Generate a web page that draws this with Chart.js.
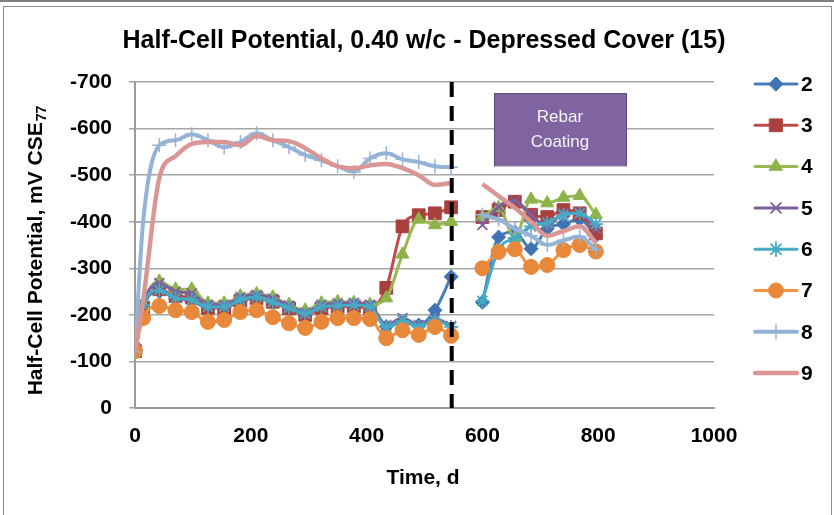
<!DOCTYPE html>
<html>
<head>
<meta charset="utf-8">
<script src="https://cdn.jsdelivr.net/npm/chart.js@4.4.1/dist/chart.umd.min.js"></script>
<style>
  html, body { margin: 0; padding: 0; background: #fff; }
  #wrap { width: 834px; height: 515px; position: relative; }
</style>
</head>
<body>
<div id="wrap"><canvas id="chart" width="834" height="515"></canvas></div>
<script>
// Measurement days (before and after the rebar coating)
const preDays = [0, 14, 42, 70, 98, 126, 154, 182, 210, 238, 266, 294, 322, 350, 378, 406, 434, 462, 490, 518, 546]
const postDays = [600, 628, 656, 684, 712, 740, 768, 796]
const gapDay = 573
const coatingDay = 547

const seriesNames = ['2', '3', '4', '5', '6', '7', '8', '9']

// Half-cell potential, mV CSE
const s2Pre = [-125, -215, -250, -235, -230, -215, -215, -230, -236, -226, -213, -200, -215, -218, -218, -215, -175, -183, -178, -210, -282]
const s3Pre = [-122, -215, -255, -240, -237, -215, -215, -230, -236, -228, -214, -200, -214, -217, -218, -215, -258, -390, -414, -418, -431]
const s4Pre = [-128, -222, -272, -255, -255, -225, -225, -240, -245, -238, -222, -210, -225, -228, -226, -222, -236, -330, -405, -393, -400]
const s5Pre = [-142, -225, -268, -250, -246, -222, -222, -238, -243, -235, -220, -205, -222, -225, -226, -222, -178, -193, -178, -192, -176]
const s6Pre = [-130, -221, -253, -236, -232, -217, -217, -232, -238, -227, -215, -202, -217, -219, -221, -217, -174, -187, -174, -189, -174]
const s7Pre = [-122, -193, -219, -210, -206, -185, -189, -206, -210, -195, -182, -172, -185, -193, -193, -191, -150, -167, -157, -174, -155]
const s8Pre = [-120, -399, -564, -575, -588, -575, -560, -571, -590, -575, -560, -543, -532, -519, -507, -536, -547, -534, -528, -519, -517]
const s9Pre = [-120, -230, -494, -541, -567, -571, -571, -564, -584, -575, -573, -558, -536, -519, -515, -521, -524, -515, -500, -479, -483]

const s2Post = [-227, -367, -378, -342, -385, -395, -405, -370]
const s3Post = [-410, -425, -443, -415, -410, -425, -418, -375]
const s4Post = [-410, -430, -365, -448, -440, -452, -456, -415]
const s5Post = [-393, -432, -445, -415, -390, -418, -418, -385]
const s6Post = [-230, -340, -365, -390, -398, -415, -418, -395]
const s7Post = [-300, -335, -341, -303, -307, -339, -350, -336]
const s8Post = [-415, -405, -385, -370, -350, -360, -368, -340]
const s9Post = [-481, -455, -430, -400, -370, -380, -390, -355]

const yTickValues = [-700, -600, -500, -400, -300, -200, -100, 0]
const xTickValues = [0, 200, 400, 600, 800, 1000]

const titleText = 'Half-Cell Potential, 0.40 w/c - Depressed Cover (15)'
const yTitleMain = 'Half-Cell Potential, mV CSE'
const yTitleSub = '77'
const xTitleText = 'Time, d'
const boxLines = ['Rebar', 'Coating']

const preSeries = [s2Pre, s3Pre, s4Pre, s5Pre, s6Pre, s7Pre, s8Pre, s9Pre]
const postSeries = [s2Post, s3Post, s4Post, s5Post, s6Post, s7Post, s8Post, s9Post]

// Styles per series
const styles = [
  { line: '#4A7EBB', fill: '#3F73B3', point: 'rectRot', r: 7, lw: 3, bw: 1 },
  { line: '#BE4B48', fill: '#A9403D', point: 'rect', r: 9, lw: 3, bw: 1 },
  { line: '#98B954', fill: '#8DB34A', point: 'triangle', r: 7.5, lw: 3, bw: 1 },
  { line: '#7D60A0', fill: '#7D60A0', point: 'crossRot', r: 7, lw: 3, bw: 1.8 },
  { line: '#46AAC5', fill: '#46AAC5', point: 'star', r: 7, lw: 3, bw: 1.8 },
  { line: '#F69240', fill: '#E8883A', point: 'circle', r: 7.5, lw: 3, bw: 1 },
  { line: '#95B3D7', fill: '#95B3D7', point: 'cross', r: 7, lw: 4, bw: 1.5 },
  { line: '#D99694', fill: '#D99694', point: false, r: 0, lw: 4.5, bw: 0 },
]

const FONT = "'Liberation Sans', Arial, sans-serif"

function toPoints(pre, post) {
  const pts = preDays.map((d, i) => ({ x: d, y: pre[i] }))
  pts.push({ x: gapDay, y: null })
  postDays.forEach((d, i) => pts.push({ x: d, y: post[i] }))
  return pts
}

const datasets = seriesNames.map((name, i) => {
  const st = styles[i]
  return {
    label: name,
    data: toPoints(preSeries[i], postSeries[i]),
    borderColor: st.line,
    borderWidth: st.lw,
    backgroundColor: st.fill,
    pointStyle: st.point,
    pointRadius: st.r,
    pointHoverRadius: st.r,
    pointBackgroundColor: st.fill,
    pointBorderColor: st.point === 'rect' || st.point === 'rectRot' || st.point === 'triangle' || st.point === 'circle' ? st.fill : st.line,
    pointBorderWidth: st.bw,
    tension: 0.35,
    cubicInterpolationMode: 'monotone',
    spanGaps: false,
    fill: false,
    order: seriesNames.length - i,
  }
})

// Custom drawing: frame, title, axis titles, coating marker, legend
const decorations = {
  id: 'decorations',
  beforeDraw(chart) {
    const ctx = chart.ctx
    ctx.save()
    ctx.fillStyle = '#fff'
    ctx.fillRect(0, 0, chart.width, chart.height)
    ctx.strokeStyle = '#7f7f7f'
    ctx.lineWidth = 2
    ctx.beginPath()
    ctx.moveTo(0, 1); ctx.lineTo(chart.width, 1)
    ctx.stroke()
    ctx.strokeStyle = '#8c8c8c'
    ctx.lineWidth = 1
    ctx.strokeRect(3.5, 6.5, chart.width - 6, chart.height)
    ctx.restore()
  },
  afterDatasetsDraw(chart) {
    const ctx = chart.ctx
    const xs = chart.scales.x
    const ys = chart.scales.y
    const area = chart.chartArea
    ctx.save()

    // coating date line
    const cx = xs.getPixelForValue(coatingDay)
    ctx.strokeStyle = '#000'
    ctx.lineWidth = 4
    ctx.setLineDash([15, 9])
    ctx.beginPath()
    ctx.moveTo(cx, area.top)
    ctx.lineTo(cx, area.bottom)
    ctx.stroke()
    ctx.setLineDash([])

    // Rebar Coating box
    const bx1 = xs.getPixelForValue(620), bx2 = xs.getPixelForValue(848)
    const by1 = ys.getPixelForValue(-676), by2 = ys.getPixelForValue(-521)
    ctx.fillStyle = '#8064A2'
    ctx.fillRect(bx1, by1, bx2 - bx1, by2 - by1)
    ctx.strokeStyle = '#5E4A7A'
    ctx.lineWidth = 1
    ctx.strokeRect(bx1 + 0.5, by1 + 0.5, bx2 - bx1, by2 - by1)
    ctx.fillStyle = '#f4f4f4'
    ctx.font = '17px ' + FONT
    ctx.textAlign = 'center'
    ctx.textBaseline = 'middle'
    const bcx = (bx1 + bx2) / 2
    ctx.fillText(boxLines[0], bcx, by1 + 24)
    ctx.fillText(boxLines[1], bcx, by1 + 49)

    // legend
    const lx1 = 755, lx2 = 797, ly0 = 84, lstep = 41.3
    chart.data.datasets.forEach((ds, i) => {
      const st = styles[i]
      const y = ly0 + i * lstep
      ctx.strokeStyle = st.line
      ctx.lineWidth = st.lw
      ctx.lineCap = 'round'
      ctx.beginPath()
      ctx.moveTo(lx1, y)
      ctx.lineTo(lx2, y)
      ctx.stroke()
      if (st.point && Chart.helpers && Chart.helpers.drawPoint) {
        ctx.fillStyle = st.fill
        ctx.strokeStyle = ds.pointBorderColor
        ctx.lineWidth = st.bw
        Chart.helpers.drawPoint(ctx, { pointStyle: st.point, radius: st.r, rotation: 0, borderWidth: st.bw }, (lx1 + lx2) / 2, y)
      }
      ctx.fillStyle = '#000'
      ctx.font = 'bold 21px ' + FONT
      ctx.textAlign = 'left'
      ctx.textBaseline = 'middle'
      ctx.fillText(ds.label, 801, y + 1)
    })

    // title
    ctx.fillStyle = '#000'
    ctx.font = 'bold 25px ' + FONT
    ctx.textAlign = 'center'
    ctx.textBaseline = 'middle'
    ctx.fillText(titleText, 424, 41)

    // x axis title
    ctx.font = 'bold 21px ' + FONT
    ctx.fillText(xTitleText, 423, 478)

    // y axis title with subscript
    ctx.translate(36, 251)
    ctx.rotate(-Math.PI / 2)
    ctx.font = 'bold 21px ' + FONT
    const w1 = ctx.measureText(yTitleMain).width
    ctx.font = 'bold 14px ' + FONT
    const w2 = ctx.measureText(yTitleSub).width
    const sx = -(w1 + w2) / 2
    ctx.textAlign = 'left'
    ctx.font = 'bold 21px ' + FONT
    ctx.fillText(yTitleMain, sx, 0)
    ctx.font = 'bold 14px ' + FONT
    ctx.fillText(yTitleSub, sx + w1 + 1, 6)
    ctx.restore()
  }
}

new Chart(document.getElementById('chart'), {
  type: 'line',
  data: { datasets },
  options: {
    responsive: false,
    animation: false,
    events: [],
    layout: { padding: { top: 82, right: 120, bottom: 0, left: 0 } },
    plugins: {
      legend: { display: false },
      title: { display: false },
      tooltip: { enabled: false },
    },
    scales: {
      x: {
        type: 'linear',
        min: 0,
        max: 1000,
        afterFit: (s) => { s.height = 107 },
        afterBuildTicks: (s) => { s.ticks = xTickValues.map(v => ({ value: v })) },
        ticks: {
          color: '#000',
          padding: 16,
          maxRotation: 0,
          font: { family: FONT, size: 21, weight: 'bold' },
          callback: (v) => String(v),
        },
        grid: { display: false, drawTicks: false },
        border: { display: true, color: '#9a9a9a', width: 2 },
      },
      y: {
        type: 'linear',
        min: -700,
        max: 0,
        reverse: true,
        afterFit: (s) => { s.width = 135 },
        afterBuildTicks: (s) => { s.ticks = yTickValues.map(v => ({ value: v })) },
        ticks: {
          color: '#000',
          padding: 17,
          font: { family: FONT, size: 21, weight: 'bold' },
          callback: (v) => String(v),
        },
        grid: { color: '#a6a6a6', lineWidth: 1.5, tickLength: 6, drawTicks: true },
        border: { display: true, color: '#9a9a9a', width: 2 },
      },
    },
  },
  plugins: [decorations],
})
</script>
</body>
</html>
